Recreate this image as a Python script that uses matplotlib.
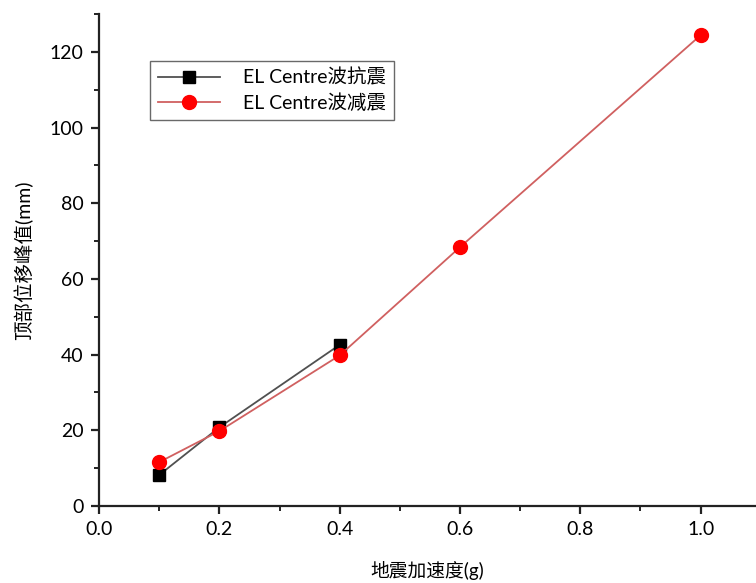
import matplotlib.pyplot as plt
from matplotlib.ticker import MultipleLocator

plt.rcParams['font.family'] = ['Lato', 'Noto Sans CJK SC', 'DejaVu Sans']

# peak top displacement vs seismic acceleration
accel_kz = [0.1, 0.2, 0.4]
disp_kz = [8.2, 20.8, 42.6]
accel_jz = [0.1, 0.2, 0.4, 0.6, 1.0]
disp_jz = [11.6, 19.8, 39.8, 68.4, 124.4]
labels = ['EL Centre波抗震', 'EL Centre波减震']

fig = plt.figure(figsize=(7.56, 5.83), dpi=100)
ax = fig.add_axes([0.131, 0.132, 0.869, 0.844])

ax.plot(accel_kz, disp_kz, color='#505050', lw=1.3, marker='s', ms=9,
        mfc='black', mec='black', label=labels[0])
ax.plot(accel_jz, disp_jz, color='#d06060', lw=1.3, marker='o', ms=10,
        mfc='#ff0000', mec='#ff0000', label=labels[1])

ax.set_xlim(0, 1.092)
ax.set_ylim(0, 130)
ax.xaxis.set_major_locator(MultipleLocator(0.2))
ax.xaxis.set_minor_locator(MultipleLocator(0.1))
ax.yaxis.set_major_locator(MultipleLocator(20))
ax.yaxis.set_minor_locator(MultipleLocator(10))
ax.xaxis.set_major_formatter(plt.FuncFormatter(lambda v, p: f'{v:.1f}'))

for s in ['top', 'right']:
    ax.spines[s].set_visible(False)
for s in ['left', 'bottom']:
    ax.spines[s].set_linewidth(1.6)
    ax.spines[s].set_color('#222222')
ax.tick_params(which='major', direction='out', length=6, width=1.6,
               labelsize=14, colors='#222222', pad=5)
ax.tick_params(which='minor', direction='out', length=3.5, width=1.4,
               colors='#222222')
for t in ax.get_xticklabels() + ax.get_yticklabels():
    t.set_color('black')

ax.set_xlabel('地震加速度(g)', fontsize=13.5, labelpad=16)
ax.set_ylabel('顶部位移峰值(mm)', fontsize=14, labelpad=12)

leg = ax.legend(loc='upper left', bbox_to_anchor=(0.063, 0.925), fontsize=14,
                frameon=True, fancybox=False, edgecolor='#444444',
                handlelength=3.2, handletextpad=1.2, borderpad=0.4,
                labelspacing=0.35, markerscale=1.0)
leg.get_frame().set_linewidth(1.0)

fig.savefig('out.png', dpi=100)
